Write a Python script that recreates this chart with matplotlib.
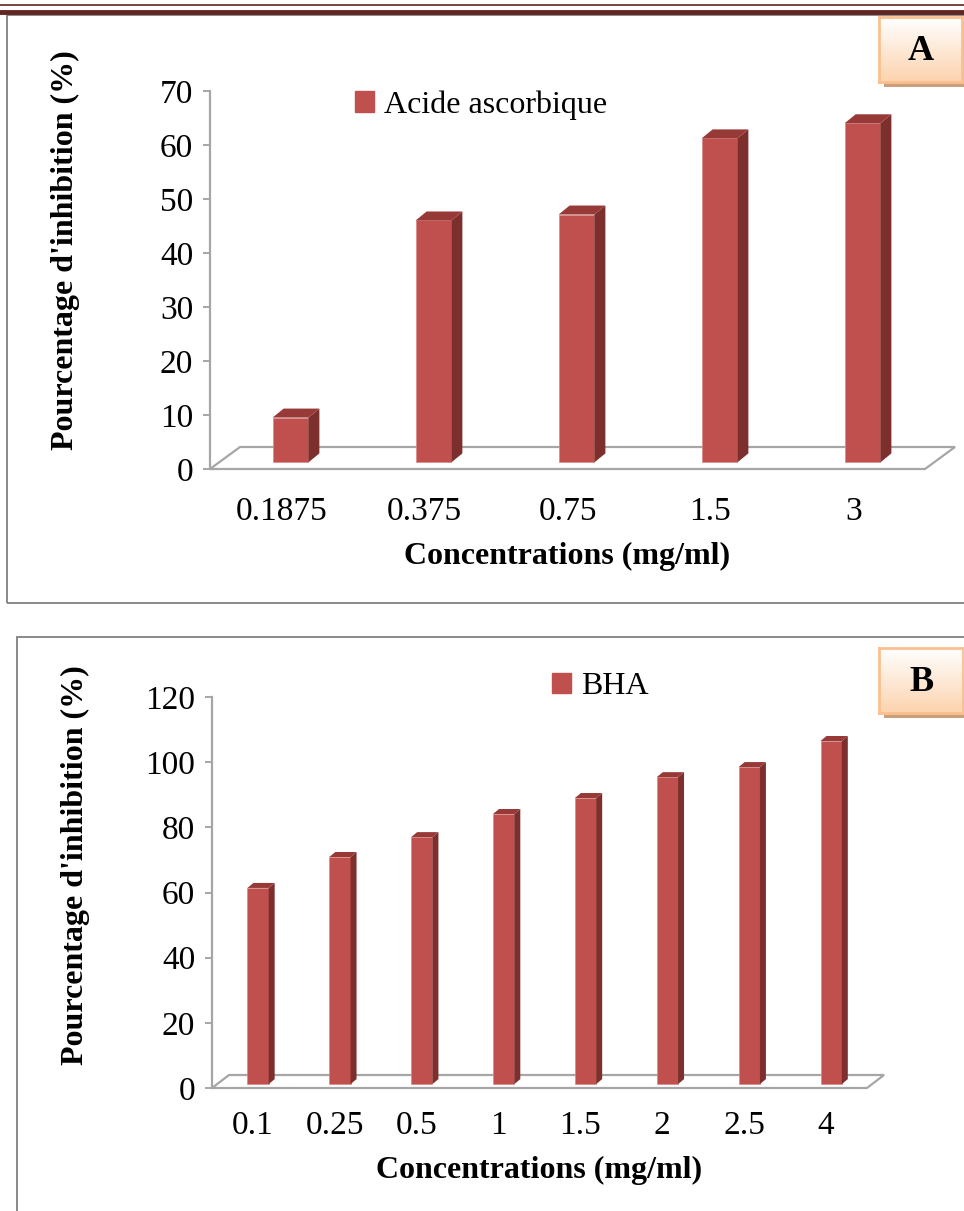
import numpy as np
import matplotlib
matplotlib.use("Agg")
import matplotlib.pyplot as plt
from matplotlib.patches import Polygon, Rectangle, Patch
from matplotlib.lines import Line2D

plt.rcParams['font.family'] = ['Liberation Serif', 'DejaVu Serif']

# data
cats_a = ["0.1875", "0.375", "0.75", "1.5", "3"]
vals_a = [8.3, 44.8, 45.9, 60.0, 62.8]
cats_b = ["0.1", "0.25", "0.5", "1", "1.5", "2", "2.5", "4"]
vals_b = [60.2, 69.7, 75.8, 82.9, 87.8, 94.2, 97.3, 105.3]

W, H = 964, 1211
fig = plt.figure(figsize=(W / 100, H / 100), dpi=100)

FRONT = '#C0504D'
SIDE = '#7D2F2D'
TOP = '#973937'
GRID = '#A6A6A6'


def px_axes(left, top, right, bottom):
    return fig.add_axes([left / W, 1 - bottom / H, (right - left) / W, (bottom - top) / H])


def panel(ax, cats, vals, ymax, ystep, floor_px, bar_px, width, xpad):
    n = len(cats)
    ax.set_xlim(-0.5, n - 0.5)
    ax.set_ylim(0, ymax)
    pos = ax.get_position()
    sx = W * pos.width / n
    sy = H * pos.height / ymax
    fdx, fdy = floor_px[0] / sx, floor_px[1] / sy
    bdx, bdy = bar_px[0] / sx, bar_px[1] / sy
    # floor
    floor = Polygon([(-0.5, 0), (n - 0.5, 0), (n - 0.5 + fdx, fdy), (-0.5 + fdx, fdy)],
                    closed=True, fill=False, edgecolor=GRID, lw=1.6, clip_on=False, zorder=1)
    ax.add_patch(floor)
    ox, oy = 0.3 * fdx, 0.3 * fdy
    x = np.arange(n)
    ax.bar(x + ox, vals, width, bottom=oy, color=FRONT, edgecolor='#D98A88', lw=0.5, zorder=3, clip_on=False)
    for xi, v in zip(x, vals):
        r = xi + ox + width / 2
        l = xi + ox - width / 2
        t = oy + v
        ax.add_patch(Polygon([(r, oy), (r, t), (r + bdx, t + bdy), (r + bdx, oy + bdy)],
                             closed=True, color=SIDE, lw=0, zorder=3, clip_on=False))
        ax.add_patch(Polygon([(l, t), (r, t), (r + bdx, t + bdy), (l + bdx, t + bdy)],
                             closed=True, color=TOP, lw=0, zorder=3, clip_on=False))
    for s in ['top', 'right', 'bottom']:
        ax.spines[s].set_visible(False)
    ax.spines['left'].set_color(GRID)
    ax.spines['left'].set_linewidth(1.6)
    ax.set_yticks(np.arange(0, ymax + 1, ystep))
    ax.tick_params(axis='y', direction='out', length=5, width=1.4, color=GRID, labelsize=24, pad=7)
    ax.set_xticks(x)
    ax.set_xticklabels(cats)
    ax.tick_params(axis='x', length=0, labelsize=24, pad=xpad)
    ax.set_facecolor('none')
    return ax


# frames and top rule
fig.add_artist(Line2D([0, 1], [1 - 5 / H, 1 - 5 / H], color='#632523', lw=1.2))
fig.add_artist(Line2D([0, 1], [1 - 12 / H, 1 - 12 / H], color='#632523', lw=3.5))
fig.add_artist(Rectangle((7 / W, 1 - 603 / H), 1.0, (603 - 15) / H, transform=fig.transFigure,
                         fill=False, edgecolor='#808080', lw=1.3))
fig.add_artist(Rectangle((17 / W, -0.1), 1.0, 0.1 + (1211 - 637) / H, transform=fig.transFigure,
                         fill=False, edgecolor='#808080', lw=1.3))

# panel A
ax1 = px_axes(210, 91, 925, 469)
panel(ax1, cats_a, vals_a, 70, 10, (30, 22), (11, 9), 0.25, 20)
ax1.set_xlabel('Concentrations (mg/ml)', fontsize=23, fontweight='bold')
ax1.xaxis.set_label_coords(0.5, -(556 - 469) / (469 - 91), transform=ax1.transAxes)
ax1.set_ylabel("Pourcentage d'inhibition (%)", fontsize=23, fontweight='bold')
ax1.yaxis.set_label_coords((65 - 210) / (925 - 210), (469 - 250) / (469 - 91))
ax1.xaxis.label.set_va('center')
ax1.yaxis.label.set_va('center')
ax1.legend(handles=[Patch(color=FRONT, label='Acide ascorbique')], loc='center left',
           bbox_to_anchor=(355 / W, 1 - 105 / H), bbox_transform=fig.transFigure,
           frameon=False, fontsize=23, handlelength=0.6, handleheight=0.6,
           handletextpad=0.3, borderpad=0, borderaxespad=0)

# panel B
ax2 = px_axes(212, 697, 867, 1088)
panel(ax2, cats_b, vals_b, 120, 20, (17, 13), (6, 5), 0.26, 16)
ax2.set_xlabel('Concentrations (mg/ml)', fontsize=23, fontweight='bold')
ax2.xaxis.set_label_coords(0.5, -(1170 - 1088) / (1088 - 697), transform=ax2.transAxes)
ax2.set_ylabel("Pourcentage d'inhibition (%)", fontsize=23, fontweight='bold')
ax2.yaxis.set_label_coords((75 - 212) / (867 - 212), (1088 - 865) / (1088 - 697))
ax2.xaxis.label.set_va('center')
ax2.yaxis.label.set_va('center')
ax2.legend(handles=[Patch(color=FRONT, label='BHA')], loc='center left',
           bbox_to_anchor=(552 / W, 1 - 687 / H), bbox_transform=fig.transFigure,
           frameon=False, fontsize=23, handlelength=0.6, handleheight=0.6,
           handletextpad=0.3, borderpad=0, borderaxespad=0)

# letter boxes
grad = np.linspace(0, 1, 64).reshape(-1, 1)
cmap = matplotlib.colors.LinearSegmentedColormap.from_list('pe', ['#FFFFFF', '#FCD3AE'])
for letter, (l, t, r, b) in [('A', (879, 17, 962, 82)), ('B', (879, 648, 963, 713))]:
    sh = px_axes(l + 5, t + 5, r + 5, b + 5)
    sh.set_facecolor('#C9A07C')
    sh.set_xticks([])
    sh.set_yticks([])
    for s in sh.spines.values():
        s.set_visible(False)
    bx = px_axes(l, t, r, b)
    bx.imshow(grad, aspect='auto', cmap=cmap, extent=(0, 1, 1, 0))
    bx.set_xlim(0, 1)
    bx.set_ylim(1, 0)
    bx.set_xticks([])
    bx.set_yticks([])
    for s in bx.spines.values():
        s.set_color('#FAC090')
        s.set_linewidth(2)
    bx.text(0.5, 0.47, letter, ha='center', va='center', fontsize=26, fontweight='bold',
            transform=bx.transAxes)

fig.savefig('out.png', dpi=100)
